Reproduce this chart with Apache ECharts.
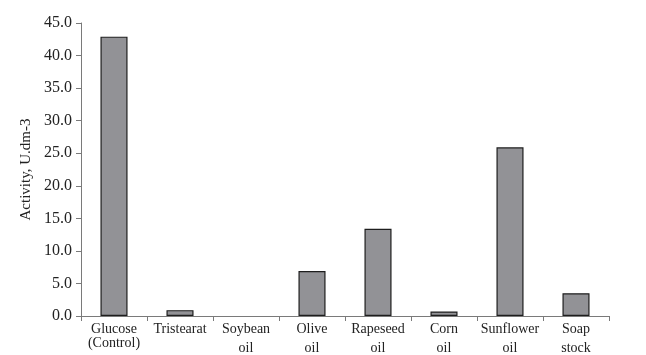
<!DOCTYPE html>
<html>
<head>
<meta charset="utf-8">
<script src="https://cdn.jsdelivr.net/npm/echarts@6/dist/echarts.min.js"></script>
<style>
html,body{margin:0;padding:0;background:#fff;}
#chart{width:646px;height:355px;}
</style>
</head>
<body>
<div id="chart"></div>
<script>
// Substrates tested and measured activity
const categories = ['Glucose\n(Control)', 'Tristearat', 'Soybean\noil', 'Olive\noil', 'Rapeseed\noil', 'Corn\noil', 'Sunflower\noil', 'Soap\nstock'];
const activity = [42.9, 0.9, 0, 6.9, 13.4, 0.7, 25.9, 3.5];
const yTicks = [0, 5, 10, 15, 20, 25, 30, 35, 40, 45];

const chart = echarts.init(document.getElementById('chart'), null, {renderer: 'canvas'});
const font = '"Liberation Serif", "Times New Roman", serif';

// zero-height bars get no outline
const barData = activity.map(v => v === 0
  ? {value: v, itemStyle: {borderWidth: 0}}
  : v);

chart.setOption({
  animation: false,
  grid: {left: 81, right: 37, top: 23, bottom: 38, containLabel: false},
  xAxis: {
    type: 'category',
    data: categories,
    axisLine: {lineStyle: {color: '#7a7a7a', width: 1}},
    axisTick: {show: true, length: 5, lineStyle: {color: '#7a7a7a'}},
    axisLabel: {
      color: '#222', fontFamily: font, fontSize: 14, margin: 5, interval: 0,
      formatter: function (v) {
        const parts = v.split('\n');
        if (parts.length === 1) return '{a|' + parts[0] + '}';
        const second = parts[1].charAt(0) === '(' ? 'c' : 'b';
        return '{a|' + parts[0] + '}\n{' + second + '|' + parts[1] + '}';
      },
      rich: {
        a: {fontFamily: font, fontSize: 14, color: '#222', lineHeight: 16},
        b: {fontFamily: font, fontSize: 14, color: '#222', lineHeight: 22},
        c: {fontFamily: font, fontSize: 14, color: '#222', lineHeight: 13}
      }
    }
  },
  yAxis: {
    type: 'value',
    min: yTicks[0],
    max: yTicks[yTicks.length - 1],
    interval: 5,
    name: 'Activity, U.dm-3',
    nameLocation: 'middle',
    nameGap: 47,
    nameTextStyle: {color: '#222', fontFamily: font, fontSize: 15},
    splitLine: {show: false},
    axisLine: {show: true, lineStyle: {color: '#7a7a7a', width: 1}},
    axisTick: {show: true, length: 5, lineStyle: {color: '#7a7a7a'}},
    axisLabel: {color: '#222', fontFamily: font, fontSize: 16, margin: 9,
      formatter: v => v.toFixed(1)}
  },
  series: [{
    type: 'bar',
    data: barData,
    barWidth: '41%',
    itemStyle: {color: '#929296', borderColor: '#1e1e1e', borderWidth: 1.2}
  }]
});
</script>
</body>
</html>
